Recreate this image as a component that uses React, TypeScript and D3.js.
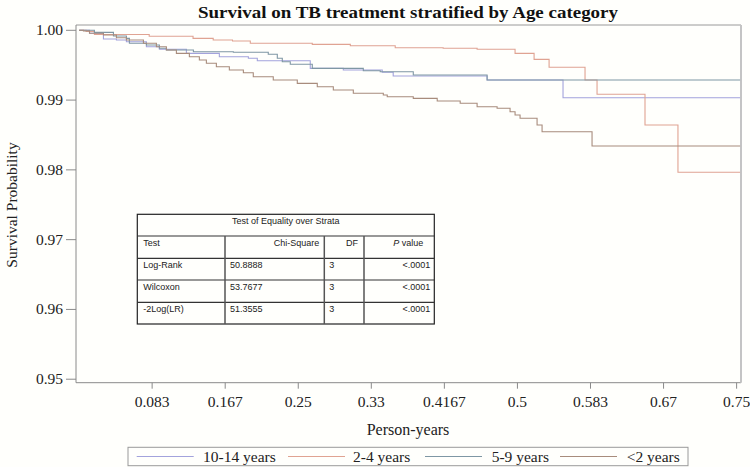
import React from "react";
import * as d3 from "d3";

const W = 750;
const H = 467;

const seriesNames = ["10-14 years", "2-4 years", "5-9 years", "<2 years"];
const seriesColors = ["#a3a3dc", "#e0a392", "#7f97a4", "#a88c7c"];

// [time (person-years), survival probability]
const s1014: [number, number][] = [
  [0, 1.0], [0.0119, 0.99957], [0.0278, 0.99875], [0.0426, 0.99861], [0.054, 0.99837],
  [0.0768, 0.99765], [0.0916, 0.99728], [0.1224, 0.9967], [0.16, 0.99622], [0.1931, 0.99599],
  [0.2033, 0.99564], [0.2637, 0.99455], [0.3014, 0.99431], [0.3458, 0.99398], [0.3583, 0.99345],
  [0.4654, 0.99288], [0.552, 0.99034], [0.754, 0.99034],
];
const s24: [number, number][] = [
  [0, 1.0], [0.008, 0.99985], [0.0175, 0.9994], [0.08, 0.99915], [0.13, 0.99885],
  [0.153, 0.99861], [0.175, 0.99847], [0.1953, 0.99814], [0.266, 0.99799], [0.3094, 0.99779],
  [0.3606, 0.99751], [0.4153, 0.99742], [0.454, 0.99728], [0.4973, 0.9967], [0.519, 0.99584],
  [0.5361, 0.9947], [0.5771, 0.99288], [0.5908, 0.99083], [0.6455, 0.98643], [0.6831, 0.97965],
  [0.754, 0.97965],
];
const s59: [number, number][] = [
  [0, 1.0], [0.0175, 0.99971], [0.0392, 0.99918], [0.054, 0.99885], [0.0574, 0.99814],
  [0.0768, 0.99789], [0.0916, 0.99742], [0.0996, 0.99718], [0.1304, 0.99693], [0.176, 0.99685],
  [0.2158, 0.99656], [0.2261, 0.99599], [0.2318, 0.9955], [0.2409, 0.99513], [0.266, 0.99455],
  [0.3242, 0.99421], [0.3435, 0.99407], [0.3812, 0.99359], [0.4654, 0.99288], [0.754, 0.99288],
];
const sLt2: [number, number][] = [
  [0, 1.0], [0.005, 0.9999], [0.0119, 0.99957], [0.0278, 0.99933], [0.0426, 0.99894],
  [0.054, 0.99861], [0.0734, 0.99814], [0.0882, 0.99765], [0.0996, 0.99718], [0.111, 0.9967],
  [0.1258, 0.99622], [0.1372, 0.99574], [0.1452, 0.99527], [0.1566, 0.99478], [0.1714, 0.99431],
  [0.1874, 0.99392], [0.1987, 0.99335], [0.2215, 0.99288], [0.2489, 0.9924], [0.2717, 0.99192],
  [0.29, 0.99144], [0.3128, 0.99097], [0.347, 0.99073], [0.3515, 0.99048], [0.3812, 0.99025],
  [0.4085, 0.98987], [0.4347, 0.98954], [0.454, 0.98905], [0.4768, 0.98882], [0.4916, 0.98833],
  [0.4973, 0.98786], [0.503, 0.98739], [0.5224, 0.98643], [0.5281, 0.98547], [0.5851, 0.98342],
  [0.754, 0.98342],
];
const allSeries = [s1014, s24, s59, sLt2];

const xTickValues = [1, 2, 3, 4, 5, 6, 7, 8, 9].map((k) => k / 12);
const xTickLabels = ["0.083", "0.167", "0.25", "0.33", "0.4167", "0.5", "0.583", "0.67", "0.75"];
const yTickValues = [0.95, 0.96, 0.97, 0.98, 0.99, 1.0];
const yTickLabels = ["0.95", "0.96", "0.97", "0.98", "0.99", "1.00"];

const tableTitle = "Test of Equality over Strata";
const tableHeader = ["Test", "Chi-Square", "DF", "P value"];
const tableTests = ["Log-Rank", "Wilcoxon", "-2Log(LR)"];
const tableChiSq = ["50.8888", "53.7677", "51.3555"];
const tableDF = ["3", "3", "3"];
const tableP = ["<.0001", "<.0001", "<.0001"];

const SERIF = "'Liberation Serif', 'Times New Roman', serif";
const SANS = "'Liberation Sans', Arial, sans-serif";

export default function App() {
  const L = 76, R = 741, T = 25, B = 382.7;
  const x = d3.scaleLinear().domain([-0.0035, 0.755]).range([L, R]);
  const y = d3.scaleLinear().domain([0.9495, 1.00076]).range([B, T]);
  const line = d3
    .line<[number, number]>()
    .x((d) => x(d[0]))
    .y((d) => y(d[1]))
    .curve(d3.curveStepAfter);

  // table geometry
  const tx = [137.3, 225, 324.3, 364, 434.3];
  const ty = [214.3, 236, 258.3, 280, 302.3, 324];

  // legend geometry
  const legX = [136.7, 288, 425, 560];
  const legTextX = [203, 353, 491.7, 626.7];

  return (
    <div style={{ position: "absolute", left: 0, top: 0 }}>
      <svg width={W} height={H} style={{ display: "block", background: "#fffffc" }}>
        <text
          x={408}
          y={18}
          textAnchor="middle"
          fontFamily={SERIF}
          fontWeight="bold"
          fontSize={17}
          fill="#111"
          textLength={420}
          lengthAdjust="spacingAndGlyphs"
        >
          Survival on TB treatment stratified by Age category
        </text>

        {/* frame */}
        <line x1={L} x2={R} y1={T} y2={T} stroke="#9a9a9a" strokeWidth={1} />
        <line x1={L} x2={L} y1={T} y2={B} stroke="#8a8a8a" strokeWidth={1} />
        <line x1={L} x2={R} y1={B} y2={B} stroke="#8a8a8a" strokeWidth={1} />
        <line x1={R} x2={R} y1={T} y2={B} stroke="#c4c4c4" strokeWidth={2} />

        {/* y axis */}
        {yTickValues.map((v, i) => (
          <g key={"yt" + i}>
            <line x1={L - 10} x2={L} y1={y(v)} y2={y(v)} stroke="#8a8a8a" />
            <text x={63} y={y(v) + 5} textAnchor="end" fontFamily={SERIF} fontSize={15.5} fill="#222">
              {yTickLabels[i]}
            </text>
          </g>
        ))}
        <text
          transform={`translate(17,205) rotate(-90)`}
          textAnchor="middle"
          fontFamily={SERIF}
          fontSize={15.5}
          fill="#222"
        >
          Survival Probability
        </text>

        {/* x axis */}
        {xTickValues.map((v, i) => (
          <g key={"xt" + i}>
            <line x1={x(v)} x2={x(v)} y1={B} y2={B + 6} stroke="#8a8a8a" />
            <text x={x(v)} y={407} textAnchor="middle" fontFamily={SERIF} fontSize={15.5} fill="#222">
              {xTickLabels[i]}
            </text>
          </g>
        ))}
        <text x={408} y={435} textAnchor="middle" fontFamily={SERIF} fontSize={16} fill="#222">
          Person-years
        </text>

        {/* curves */}
        {allSeries.map((s, i) => (
          <path key={"s" + i} d={line(s) || ""} fill="none" stroke={seriesColors[i]} strokeWidth={1.1} />
        ))}

        {/* table */}
        <g fontFamily={SANS} fontSize={9} fill="#222">
          <rect x={tx[0]} y={ty[0]} width={tx[4] - tx[0]} height={ty[5] - ty[0]} fill="#fffffc" stroke="#222" strokeWidth={1.2} />
          {ty.slice(1, 5).map((yy, i) => (
            <line key={"hr" + i} x1={tx[0]} x2={tx[4]} y1={yy} y2={yy} stroke="#333" strokeWidth={1.2} />
          ))}
          {tx.slice(1, 4).map((xx, i) => (
            <line key={"vr" + i} x1={xx} x2={xx} y1={ty[1]} y2={ty[5]} stroke="#555" strokeWidth={1.5} />
          ))}
          <text x={(tx[0] + tx[4]) / 2} y={224} textAnchor="middle">{tableTitle}</text>
          <text x={tx[0] + 6} y={ty[1] + 9.5}>{tableHeader[0]}</text>
          <text x={tx[2] - 5} y={ty[1] + 9.5} textAnchor="end">{tableHeader[1]}</text>
          <text x={tx[3] - 6} y={ty[1] + 9.5} textAnchor="end">{tableHeader[2]}</text>
          <text x={tx[4] - 11} y={ty[1] + 9.5} textAnchor="end">
            <tspan fontStyle="italic">P</tspan>
            <tspan>{"  value"}</tspan>
          </text>
          {tableTests.map((t, i) => (
            <g key={"row" + i}>
              <text x={tx[0] + 6} y={ty[i + 2] + 9.5}>{t}</text>
              <text x={tx[1] + 5} y={ty[i + 2] + 9.5}>{tableChiSq[i]}</text>
              <text x={tx[2] + 5} y={ty[i + 2] + 9.5}>{tableDF[i]}</text>
              <text x={tx[4] - 4} y={ty[i + 2] + 9.5} textAnchor="end">{tableP[i]}</text>
            </g>
          ))}
        </g>

        {/* legend */}
        <rect x={128} y={447.3} width={560} height={18.4} fill="#fffffc" stroke="#9a9a9a" strokeWidth={1} />
        {seriesNames.map((n, i) => (
          <g key={"lg" + i}>
            <line x1={legX[i]} x2={legX[i] + 57} y1={456.5} y2={456.5} stroke={seriesColors[i]} strokeWidth={1.1} />
            <text x={legTextX[i]} y={461.5} fontFamily={SERIF} fontSize={15.5} fill="#222">
              {n}
            </text>
          </g>
        ))}
      </svg>
    </div>
  );
}
